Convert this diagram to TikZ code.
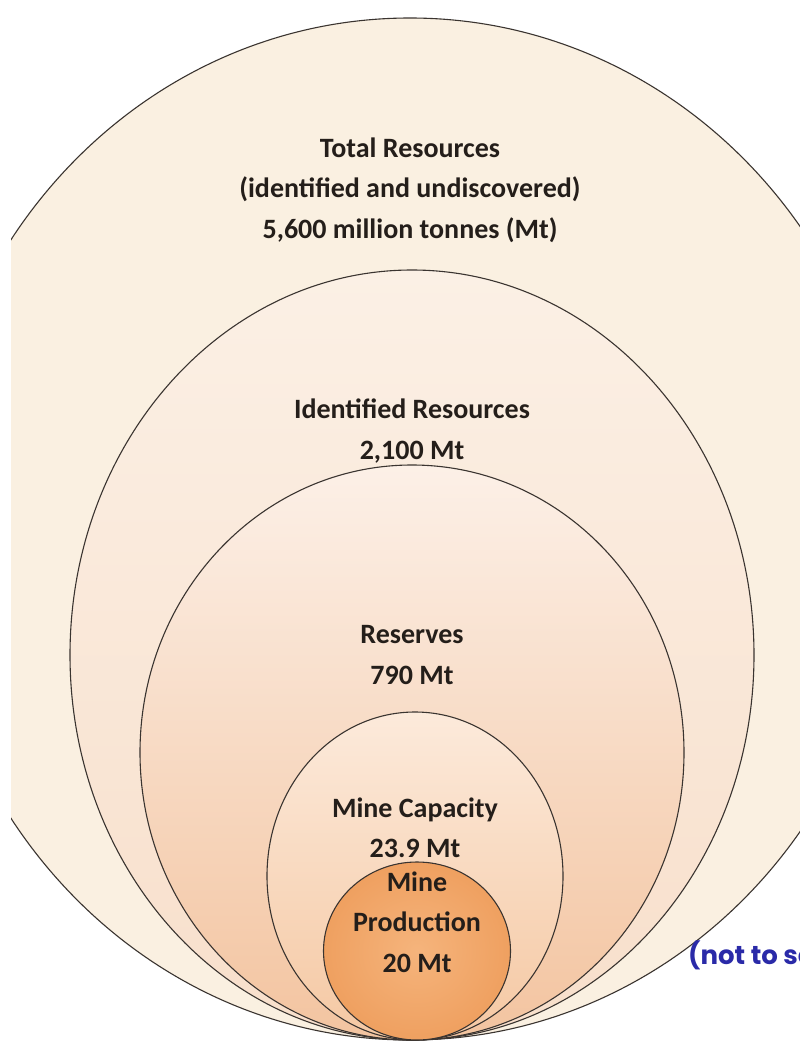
\documentclass[tikz,border=0pt]{standalone}
\usepackage{fontspec}
\setmainfont{Carlito}
\newfontfamily\notefont{Poppins}
\usetikzlibrary{shapes.geometric}

\definecolor{ringline}{HTML}{3A3430}
\definecolor{labeltext}{HTML}{241E1A}
\definecolor{noteblue}{HTML}{2A2AA8}
\definecolor{totalfill}{HTML}{FAF0E1}
\definecolor{identtop}{HTML}{FBF0E5}
\definecolor{identbot}{HTML}{F8DFCB}
\definecolor{restop}{HTML}{FCF0E7}
\definecolor{resbot}{HTML}{F3C4A0}
\definecolor{captop}{HTML}{FCEADB}
\definecolor{capbot}{HTML}{F5C8A3}
\definecolor{prodin}{HTML}{F5B47C}
\definecolor{prodout}{HTML}{EFA060}

\begin{document}
\begin{tikzpicture}[
    x=1pt, y=-1pt,
    every node/.style={font=\bfseries\fontsize{28}{40.5}\selectfont},
    ring/.style={ellipse, draw=ringline, line width=1.1pt, inner sep=0pt},
    label/.style={align=center, text=labeltext, inner sep=0pt},
    scalenote/.style={font=\notefont\bfseries\fontsize{26}{30}\selectfont, text=noteblue, anchor=west, inner sep=0pt}
]
% -------------------------
% Page
% -------------------------
    \fill[white] (0,0) rectangle (800,1044);
    \useasboundingbox (0,0) rectangle (800,1044);

% -------------------------
% Nested rings
% -------------------------
    \begin{scope}
        \clip (11,0) rectangle (800,1044);
        \node[ring, fill=totalfill, minimum width=968pt, minimum height=1022pt] (total) at (410,529) {};
    \end{scope}
    \node[ring, top color=identtop, bottom color=identbot, minimum width=684pt, minimum height=770pt] (ident) at (412,655) {};
    \node[ring, top color=restop, bottom color=resbot, minimum width=544pt, minimum height=575pt] (reserves) at (412,752.5) {};
    \node[ring, top color=captop, bottom color=capbot, minimum width=296pt, minimum height=328pt] (capacity) at (415,876) {};
    \node[ring, shade, inner color=prodin, outer color=prodout, minimum width=187pt, minimum height=178pt] (production) at (417,951) {};

% -------------------------
% Labels
% -------------------------
    \node[label] (totaltxt) at (410,190) {Total Resources\\(identified and undiscovered)\\5,600 million tonnes (Mt)};
    \node[label] (identtxt) at (412,431) {Identified Resources\\2,100 Mt};
    \node[label] (restxt) at (412,655) {Reserves\\790 Mt};
    \node[label] (captxt) at (415,828) {Mine Capacity\\23.9 Mt};
    \node[label] (prodtxt) at (417,922) {Mine\\Production\\20 Mt};

    \node[scalenote] (scaletxt) at (688,955) {(not to scale)};
\end{tikzpicture}
\end{document}
